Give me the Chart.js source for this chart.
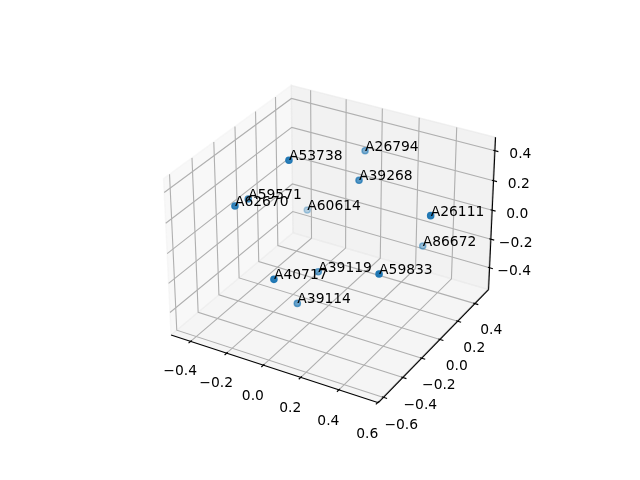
<!DOCTYPE html>
<html>
<head>
<meta charset="utf-8">
<script src="https://cdn.jsdelivr.net/npm/chart.js@4.4.1/dist/chart.umd.min.js"></script>
<style>
html, body { margin: 0; padding: 0; background: #ffffff; }
canvas { display: block; }
</style>
</head>
<body>
<canvas id="chart" width="640" height="480"></canvas>
<script>
// point ids and their 3d values
var ids = ["A53738", "A62670", "A40717", "A26111", "A59833", "A39268",
	"A59571", "A39119", "A39114", "A26794", "A86672", "A60614"];
var xVals = [-0.143, -0.332, -0.053, 0.497, 0.374, 0.059, -0.401, -0.052, -0.101, -0.055, 0.255, -0.360];
var yVals = [-0.127, -0.318, -0.446, 0.084, -0.202, 0.202, -0.076, -0.010, -0.136, 0.488, 0.523, 0.445];
var zVals = [0.452, 0.190, -0.124, 0.193, -0.073, 0.212, 0.080, -0.333, -0.497, 0.224, -0.352, -0.271];

// axis limits and ticks
var xLim = [-0.488, 0.581];
var yLim = [-0.628, 0.538];
var zLim = [-0.535, 0.468];
var xTicks = [-0.4, -0.2, 0.0, 0.2, 0.4, 0.6];
var yTicks = [-0.6, -0.4, -0.2, 0.0, 0.2, 0.4];
var zTicks = [-0.4, -0.2, 0.0, 0.2, 0.4];

var FONT = '13.89px "DejaVu Sans", sans-serif';
var BLUE = [31, 119, 180];

// camera, same default view as a matplotlib 3d axes
var aspect = [8 / 7, 8 / 7, 6 / 7];
var elev = 30 * Math.PI / 180, azim = -60 * Math.PI / 180, dist = 10;
var W = [Math.cos(elev) * Math.cos(azim), Math.cos(elev) * Math.sin(azim), Math.sin(elev)];
var U = [-W[1] / Math.cos(elev), W[0] / Math.cos(elev), 0];
var V = [W[1] * U[2] - W[2] * U[1], W[2] * U[0] - W[0] * U[2], W[0] * U[1] - W[1] * U[0]];
var lims = [xLim, yLim, zLim];
var lo = aspect.map(function(a) { return -a / 48; });
var hi = aspect.map(function(a) { return a * 49 / 48; });

function toBox(i, v) {
	return (v - lims[i][0]) / (lims[i][1] - lims[i][0]) * aspect[i];
}
function project(n) {
	var d = [n[0] - aspect[0] / 2, n[1] - aspect[1] / 2, n[2] - aspect[2] / 2];
	var ud = U[0] * d[0] + U[1] * d[1] + U[2] * d[2];
	var vd = V[0] * d[0] + V[1] * d[1] + V[2] * d[2];
	var wd = W[0] * d[0] + W[1] * d[1] + W[2] * d[2];
	var k = dist - wd;
	return { x: ud / k, y: vd / k, depth: wd };
}
function fmt(v) {
	return v.toFixed(1).replace("-", "\u2212");
}

var pts = ids.map(function(id, i) {
	var p = project([toBox(0, xVals[i]), toBox(1, yVals[i]), toBox(2, zVals[i])]);
	return { x: p.x, y: p.y, depth: p.depth, label: id };
});
pts.sort(function(a, b) { return a.depth - b.depth; });
var dMin = pts[0].depth, dMax = pts[pts.length - 1].depth;
var colors = pts.map(function(p) {
	var a = 1 - 0.7 * (dMax - p.depth) / (dMax - dMin);
	return "rgba(" + BLUE.join(",") + "," + a.toFixed(3) + ")";
});

var box3d = {
	id: "box3d",
	beforeDatasetsDraw: function(chart) {
		var ctx = chart.ctx, sx = chart.scales.x, sy = chart.scales.y;
		function pix(n) {
			var p = project(n);
			return [sx.getPixelForValue(p.x), sy.getPixelForValue(p.y)];
		}
		function path(list) {
			ctx.beginPath();
			list.forEach(function(n, j) {
				var q = pix(n);
				if (j == 0) ctx.moveTo(q[0], q[1]); else ctx.lineTo(q[0], q[1]);
			});
		}
		ctx.save();
		// panes
		var panes = [
			{ c: "rgba(242,242,242,0.5)", p: [[lo[0], lo[1], lo[2]], [lo[0], hi[1], lo[2]], [lo[0], hi[1], hi[2]], [lo[0], lo[1], hi[2]]] },
			{ c: "rgba(230,230,230,0.5)", p: [[lo[0], hi[1], lo[2]], [hi[0], hi[1], lo[2]], [hi[0], hi[1], hi[2]], [lo[0], hi[1], hi[2]]] },
			{ c: "rgba(236,236,236,0.5)", p: [[lo[0], lo[1], lo[2]], [hi[0], lo[1], lo[2]], [hi[0], hi[1], lo[2]], [lo[0], hi[1], lo[2]]] }
		];
		panes.forEach(function(pn) {
			path(pn.p);
			ctx.closePath();
			ctx.fillStyle = pn.c;
			ctx.fill();
			ctx.strokeStyle = pn.c;
			ctx.lineWidth = 1.39;
			ctx.stroke();
		});
		// grid
		ctx.strokeStyle = "#b0b0b0";
		ctx.lineWidth = 1.11;
		xTicks.forEach(function(t) {
			var v = toBox(0, t);
			path([[v, lo[1], lo[2]], [v, hi[1], lo[2]], [v, hi[1], hi[2]]]);
			ctx.stroke();
		});
		yTicks.forEach(function(t) {
			var v = toBox(1, t);
			path([[hi[0], v, lo[2]], [lo[0], v, lo[2]], [lo[0], v, hi[2]]]);
			ctx.stroke();
		});
		zTicks.forEach(function(t) {
			var v = toBox(2, t);
			path([[lo[0], lo[1], v], [lo[0], hi[1], v], [hi[0], hi[1], v]]);
			ctx.stroke();
		});
		// axis lines
		ctx.strokeStyle = "#000000";
		ctx.lineWidth = 1.04;
		path([[lo[0], lo[1], lo[2]], [hi[0], lo[1], lo[2]]]); ctx.stroke();
		path([[hi[0], lo[1], lo[2]], [hi[0], hi[1], lo[2]]]); ctx.stroke();
		path([[hi[0], hi[1], lo[2]], [hi[0], hi[1], hi[2]]]); ctx.stroke();
		// ticks and tick labels
		var dx = aspect[0] / 12, dy = aspect[1] / 12;
		ctx.lineWidth = 1.11;
		ctx.font = FONT;
		ctx.fillStyle = "#000000";
		ctx.textAlign = "center";
		ctx.textBaseline = "alphabetic";
		function label(n, txt) {
			var q = pix(n);
			ctx.fillText(txt, q[0], q[1] + 5);
		}
		xTicks.forEach(function(t) {
			var v = toBox(0, t);
			path([[v, lo[1] - 0.2 * dy, lo[2]], [v, lo[1] + 0.1 * dy, lo[2]]]); ctx.stroke();
			label([v, lo[1] - 0.1017, lo[2] - 0.1142], fmt(t));
		});
		yTicks.forEach(function(t) {
			var v = toBox(1, t);
			path([[hi[0] + 0.2 * dx, v, lo[2]], [hi[0] - 0.1 * dx, v, lo[2]]]); ctx.stroke();
			label([hi[0] + 0.0984, v, lo[2] - 0.1209], fmt(t));
		});
		zTicks.forEach(function(t) {
			var v = toBox(2, t);
			path([[hi[0] + 0.2 * dx, hi[1], v], [hi[0] - 0.1 * dx, hi[1], v]]); ctx.stroke();
			label([hi[0] + 0.1210, hi[1] + 0.0409, v], fmt(t));
		});
		ctx.restore();
	},
	afterDatasetsDraw: function(chart) {
		var ctx = chart.ctx;
		var meta = chart.getDatasetMeta(0);
		ctx.save();
		ctx.font = FONT;
		ctx.fillStyle = "#000000";
		ctx.textAlign = "left";
		ctx.textBaseline = "alphabetic";
		meta.data.forEach(function(el, i) {
			ctx.fillText(pts[i].label, el.x, el.y);
		});
		ctx.restore();
	}
};

var chart = new Chart(document.getElementById("chart").getContext("2d"), {
	type: "scatter",
	data: {
		datasets: [{
			data: pts,
			backgroundColor: colors,
			borderColor: colors,
			pointRadius: 3.1,
			pointHoverRadius: 3.1,
			borderWidth: 1.39,
			clip: false
		}]
	},
	options: {
		responsive: false,
		animation: false,
		events: [],
		layout: { padding: { left: 140.8, right: 124.8, top: 52.8, bottom: 52.8 } },
		plugins: { legend: { display: false }, tooltip: { enabled: false } },
		scales: {
			x: { type: "linear", min: -0.09620, max: 0.09143, display: false },
			y: { type: "linear", min: -0.09560, max: 0.09203, display: false }
		}
	},
	plugins: [box3d]
});
</script>
</body>
</html>
